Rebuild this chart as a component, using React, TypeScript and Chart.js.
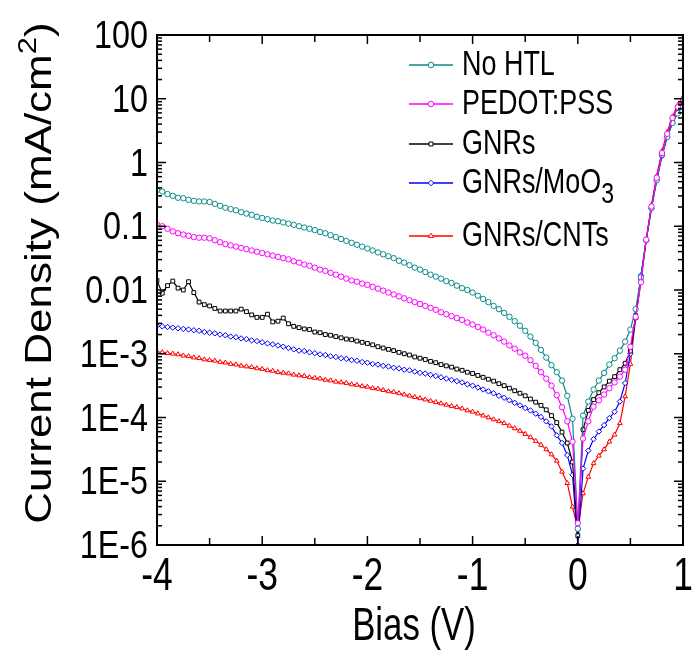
import React, { useEffect, useRef } from "react";
import { Chart, registerables } from "chart.js";

Chart.register(...registerables);

const FONT = "'Liberation Sans', Arial, Helvetica, sans-serif";

// Bias (V)
const bias = [
  -4, -3.95, -3.9, -3.85, -3.8, -3.75, -3.7, -3.65, -3.6, -3.55,
  -3.5, -3.45, -3.4, -3.35, -3.3, -3.25, -3.2, -3.15, -3.1, -3.05,
  -3, -2.95, -2.9, -2.85, -2.8, -2.75, -2.7, -2.65, -2.6, -2.55,
  -2.5, -2.45, -2.4, -2.35, -2.3, -2.25, -2.2, -2.15, -2.1, -2.05,
  -2, -1.95, -1.9, -1.85, -1.8, -1.75, -1.7, -1.65, -1.6, -1.55,
  -1.5, -1.45, -1.4, -1.35, -1.3, -1.25, -1.2, -1.15, -1.1, -1.05,
  -1, -0.95, -0.9, -0.85, -0.8, -0.75, -0.7, -0.65, -0.6, -0.55,
  -0.5, -0.45, -0.4, -0.35, -0.3, -0.25, -0.2, -0.15, -0.1, -0.05,
  0, 0.05, 0.1, 0.15, 0.2, 0.25, 0.3, 0.35, 0.4, 0.45,
  0.5, 0.55, 0.6, 0.65, 0.7, 0.75, 0.8, 0.85, 0.9, 0.95, 1,
];

// Current density (mA/cm2)
const noHTL = [
  0.37, 0.35, 0.32, 0.30, 0.28, 0.275, 0.26, 0.25, 0.245, 0.245,
  0.24, 0.224, 0.209, 0.195, 0.186, 0.178, 0.166, 0.158, 0.151, 0.141,
  0.135, 0.129, 0.123, 0.120, 0.115, 0.110, 0.105, 0.100, 0.0955, 0.0912,
  0.0871, 0.0813, 0.0776, 0.0724, 0.0676, 0.0631, 0.0589, 0.0550, 0.0513, 0.0479,
  0.0447, 0.0417, 0.0389, 0.0363, 0.0339, 0.0316, 0.0288, 0.0269, 0.0245, 0.0224,
  0.0209, 0.0191, 0.0174, 0.0162, 0.0151, 0.0138, 0.0129, 0.0117, 0.0107, 0.0100,
  9.12e-3, 8.13e-3, 7.24e-3, 6.46e-3, 5.62e-3, 5.01e-3, 4.37e-3, 3.80e-3, 3.24e-3, 2.75e-3,
  2.29e-3, 1.86e-3, 1.48e-3, 1.15e-3, 8.71e-4, 6.61e-4, 5.13e-4, 3.80e-4, 2.19e-4, 9.55e-5,
  1.8e-6,
  1.07e-4, 1.78e-4, 2.75e-4, 3.80e-4, 5.01e-4, 6.76e-4, 8.51e-4, 1.12e-3, 1.55e-3, 2.40e-3,
  5.01e-3, 1.58e-2, 6.03e-2, 0.191, 0.525, 1.32, 2.51, 4.17, 5.89, 7.59,
];

const pedotPSS = [
  0.107, 0.100, 0.0912, 0.0832, 0.0776, 0.0741, 0.0708, 0.0676, 0.0661, 0.0661,
  0.0646, 0.0603, 0.0562, 0.0525, 0.0501, 0.0479, 0.0457, 0.0437, 0.0417, 0.0398,
  0.0380, 0.0363, 0.0347, 0.0331, 0.0316, 0.0302, 0.0282, 0.0269, 0.0251, 0.0240,
  0.0224, 0.0209, 0.0200, 0.0186, 0.0174, 0.0162, 0.0151, 0.0141, 0.0135, 0.0126,
  0.0120, 0.0112, 0.0105, 9.77e-3, 9.12e-3, 8.51e-3, 7.94e-3, 7.41e-3, 6.92e-3, 6.46e-3,
  6.03e-3, 5.62e-3, 5.25e-3, 4.90e-3, 4.47e-3, 4.17e-3, 3.89e-3, 3.63e-3, 3.39e-3, 3.09e-3,
  2.88e-3, 2.63e-3, 2.40e-3, 2.14e-3, 1.95e-3, 1.74e-3, 1.55e-3, 1.35e-3, 1.20e-3, 1.05e-3,
  9.33e-4, 7.94e-4, 6.46e-4, 5.13e-4, 4.07e-4, 3.16e-4, 2.24e-4, 1.45e-4, 8.71e-5, 4.17e-5,
  2.2e-6,
  4.68e-5, 8.71e-5, 1.48e-4, 1.86e-4, 2.29e-4, 2.88e-4, 3.55e-4, 4.37e-4, 5.62e-4, 1.29e-3,
  3.80e-3, 1.32e-2, 6.17e-2, 0.204, 0.575, 1.41, 2.82, 5.01, 7.41, 9.55,
];

const gnrs = [
  0.0141, 8.91e-3, 0.0117, 0.0138, 0.0107, 0.0100, 0.0135, 9.12e-3, 6.46e-3, 5.89e-3,
  5.62e-3, 5.13e-3, 4.68e-3, 4.68e-3, 4.68e-3, 4.68e-3, 5.01e-3, 4.57e-3, 4.07e-3, 3.72e-3,
  3.72e-3, 4.17e-3, 3.16e-3, 3.24e-3, 3.63e-3, 2.95e-3, 2.69e-3, 2.57e-3, 2.45e-3, 2.40e-3,
  2.19e-3, 2.14e-3, 2.00e-3, 1.95e-3, 1.86e-3, 1.78e-3, 1.70e-3, 1.66e-3, 1.58e-3, 1.51e-3,
  1.45e-3, 1.38e-3, 1.29e-3, 1.23e-3, 1.17e-3, 1.12e-3, 1.05e-3, 1.00e-3, 9.55e-4, 8.91e-4,
  8.51e-4, 8.13e-4, 7.59e-4, 7.24e-4, 6.76e-4, 6.46e-4, 6.17e-4, 5.75e-4, 5.50e-4, 5.13e-4,
  4.90e-4, 4.57e-4, 4.27e-4, 3.98e-4, 3.72e-4, 3.39e-4, 3.16e-4, 2.88e-4, 2.63e-4, 2.40e-4,
  2.19e-4, 1.95e-4, 1.74e-4, 1.55e-4, 1.32e-4, 1.07e-4, 8.32e-5, 5.89e-5, 3.98e-5, 2.00e-5,
  1.4e-6,
  6.46e-5, 1.29e-4, 1.91e-4, 2.45e-4, 3.02e-4, 3.72e-4, 4.37e-4, 5.62e-4, 7.08e-4, 1.10e-3,
  3.98e-3, 1.48e-2, 6.03e-2, 0.200, 0.562, 1.38, 2.69, 4.68, 6.92, 8.91,
];

const gnrsMoO3 = [
  2.75e-3, 2.69e-3, 2.63e-3, 2.57e-3, 2.51e-3, 2.45e-3, 2.40e-3, 2.34e-3, 2.29e-3, 2.19e-3,
  2.14e-3, 2.09e-3, 2.00e-3, 1.95e-3, 1.86e-3, 1.82e-3, 1.74e-3, 1.70e-3, 1.62e-3, 1.58e-3,
  1.51e-3, 1.45e-3, 1.41e-3, 1.35e-3, 1.29e-3, 1.23e-3, 1.17e-3, 1.12e-3, 1.10e-3, 1.05e-3,
  1.02e-3, 9.77e-4, 9.55e-4, 9.12e-4, 8.91e-4, 8.51e-4, 8.32e-4, 7.94e-4, 7.76e-4, 7.41e-4,
  7.24e-4, 6.92e-4, 6.76e-4, 6.46e-4, 6.31e-4, 6.03e-4, 5.89e-4, 5.62e-4, 5.50e-4, 5.25e-4,
  5.01e-4, 4.90e-4, 4.68e-4, 4.47e-4, 4.27e-4, 4.07e-4, 3.89e-4, 3.72e-4, 3.55e-4, 3.31e-4,
  3.16e-4, 2.95e-4, 2.75e-4, 2.57e-4, 2.40e-4, 2.19e-4, 2.04e-4, 1.86e-4, 1.70e-4, 1.55e-4,
  1.41e-4, 1.29e-4, 1.15e-4, 1.02e-4, 8.71e-5, 7.24e-5, 5.25e-5, 3.98e-5, 2.57e-5, 1.26e-5,
  1.0e-6,
  1.58e-5, 3.02e-5, 4.57e-5, 6.03e-5, 7.59e-5, 9.77e-5, 1.23e-4, 1.78e-4, 3.47e-4, 1.00e-3,
  3.63e-3, 1.70e-2, 6.03e-2, 0.191, 0.525, 1.26, 2.51, 4.17, 6.03, 7.94,
];

const gnrsCNTs = [
  1.07e-3, 1.05e-3, 1.02e-3, 1.00e-3, 9.77e-4, 9.33e-4, 9.12e-4, 8.71e-4, 8.51e-4, 8.13e-4,
  7.94e-4, 7.76e-4, 7.41e-4, 7.24e-4, 6.92e-4, 6.76e-4, 6.46e-4, 6.31e-4, 6.17e-4, 5.89e-4,
  5.75e-4, 5.50e-4, 5.37e-4, 5.13e-4, 5.01e-4, 4.90e-4, 4.68e-4, 4.57e-4, 4.47e-4, 4.27e-4,
  4.17e-4, 4.07e-4, 3.89e-4, 3.80e-4, 3.63e-4, 3.55e-4, 3.47e-4, 3.31e-4, 3.24e-4, 3.09e-4,
  3.02e-4, 2.88e-4, 2.82e-4, 2.69e-4, 2.57e-4, 2.51e-4, 2.40e-4, 2.29e-4, 2.19e-4, 2.09e-4,
  2.00e-4, 1.91e-4, 1.82e-4, 1.74e-4, 1.66e-4, 1.58e-4, 1.51e-4, 1.45e-4, 1.38e-4, 1.29e-4,
  1.23e-4, 1.15e-4, 1.07e-4, 1.00e-4, 9.33e-5, 8.71e-5, 8.13e-5, 7.41e-5, 6.76e-5, 6.17e-5,
  5.50e-5, 4.90e-5, 4.27e-5, 3.72e-5, 3.16e-5, 2.63e-5, 2.09e-5, 1.41e-5, 9.33e-6, 3.98e-6,
  1.78e-6,
  6.46e-6, 1.17e-5, 1.91e-5, 2.51e-5, 3.16e-5, 4.17e-5, 5.37e-5, 8.13e-5, 2.14e-4, 6.92e-4,
  3.63e-3, 1.38e-2, 6.31e-2, 0.214, 0.617, 1.51, 3.02, 5.25, 7.94, 10.5,
];

const seriesNames = ["No HTL", "PEDOT:PSS", "GNRs", "GNRs/MoO3", "GNRs/CNTs"];
const seriesValues = [noHTL, pedotPSS, gnrs, gnrsMoO3, gnrsCNTs];
const seriesColors = ["#0a8a8a", "#ff00ff", "#000000", "#0000ff", "#ff0000"];
const seriesMarkers = ["circle", "circle", "rect", "rectRot", "triangle"];
const seriesOrder = [1, 0, 1, 1, 1];

const xTickValues = [-4, -3, -2, -1, 0, 1];
const xTickLabels = ["-4", "-3", "-2", "-1", "0", "1"];
const yTickValues = [1e-6, 1e-5, 1e-4, 1e-3, 1e-2, 1e-1, 1, 10, 100];
const yTickLabels = ["1E-6", "1E-5", "1E-4", "1E-3", "0.01", "0.1", "1", "10", "100"];

type Seg = { t: string; size: number; dy?: number };

function drawText(
  ctx: CanvasRenderingContext2D,
  segs: Seg[],
  x: number,
  y: number,
  align: "left" | "center" | "right",
  squeeze: number,
  rotate = false
) {
  let total = 0;
  const widths = segs.map((s) => {
    ctx.font = `${s.size}px ${FONT}`;
    const w = ctx.measureText(s.t).width;
    total += w;
    return w;
  });
  ctx.save();
  ctx.translate(x, y);
  if (rotate) {
    ctx.rotate(-Math.PI / 2);
    ctx.scale(1, squeeze);
  } else {
    ctx.scale(squeeze, 1);
  }
  ctx.textAlign = "left";
  ctx.textBaseline = "alphabetic";
  ctx.fillStyle = "#000";
  let cx = align === "left" ? 0 : align === "center" ? -total / 2 : -total;
  segs.forEach((s, i) => {
    ctx.font = `${s.size}px ${FONT}`;
    ctx.fillText(s.t, cx, s.dy || 0);
    cx += widths[i];
  });
  ctx.restore();
}

function drawMarker(
  ctx: CanvasRenderingContext2D,
  style: string,
  x: number,
  y: number,
  r: number,
  color: string
) {
  ctx.beginPath();
  if (style === "circle") {
    ctx.arc(x, y, r, 0, Math.PI * 2);
  } else if (style === "rect") {
    const s = r * Math.SQRT1_2;
    ctx.rect(x - s, y - s, 2 * s, 2 * s);
  } else if (style === "rectRot") {
    ctx.moveTo(x, y - r);
    ctx.lineTo(x + r, y);
    ctx.lineTo(x, y + r);
    ctx.lineTo(x - r, y);
    ctx.closePath();
  } else {
    const h = r * 1.5;
    ctx.moveTo(x, y - h * 0.66);
    ctx.lineTo(x + r, y + h * 0.34);
    ctx.lineTo(x - r, y + h * 0.34);
    ctx.closePath();
  }
  ctx.fillStyle = "#fff";
  ctx.fill();
  ctx.strokeStyle = color;
  ctx.lineWidth = 1;
  ctx.stroke();
}

const decorPlugin = {
  id: "decor",
  afterDraw(chart: any) {
    const ctx: CanvasRenderingContext2D = chart.ctx;
    const a = chart.chartArea;
    const xs = chart.scales.x;
    const ys = chart.scales.y;
    ctx.save();
    ctx.strokeStyle = "#000";
    ctx.lineCap = "butt";

    const seg = (x1: number, y1: number, x2: number, y2: number) => {
      ctx.beginPath();
      ctx.moveTo(x1, y1);
      ctx.lineTo(x2, y2);
      ctx.stroke();
    };

    // x ticks (inward, bottom and top)
    ctx.lineWidth = 1.5;
    for (let i = 0; i < xTickValues.length; i++) {
      const px = xs.getPixelForValue(xTickValues[i]);
      seg(px, a.bottom, px, a.bottom - 9);
      seg(px, a.top, px, a.top + 9);
      if (i < xTickValues.length - 1) {
        const mx = xs.getPixelForValue((xTickValues[i] + xTickValues[i + 1]) / 2);
        seg(mx, a.bottom, mx, a.bottom - 7);
        seg(mx, a.top, mx, a.top + 7);
      }
    }
    // y ticks (inward, left and right)
    for (let i = 0; i < yTickValues.length; i++) {
      const py = ys.getPixelForValue(yTickValues[i]);
      seg(a.left, py, a.left + 9, py);
      seg(a.right, py, a.right - 9, py);
      if (i < yTickValues.length - 1) {
        for (let k = 2; k <= 9; k++) {
          const my = ys.getPixelForValue(yTickValues[i] * k);
          seg(a.left, my, a.left + 5, my);
          seg(a.right, my, a.right - 5, my);
        }
      }
    }
    // frame
    ctx.lineWidth = 2;
    ctx.strokeRect(a.left, a.top, a.right - a.left, a.bottom - a.top);

    // tick labels
    for (let i = 0; i < yTickValues.length; i++) {
      const py = ys.getPixelForValue(yTickValues[i]);
      drawText(ctx, [{ t: yTickLabels[i], size: 38 }], a.left - 9, py + 13, "right", 0.85);
    }
    for (let i = 0; i < xTickValues.length; i++) {
      const px = xs.getPixelForValue(xTickValues[i]);
      drawText(ctx, [{ t: xTickLabels[i], size: 46 }], px, a.bottom + 45, "center", 0.77);
    }

    // axis titles
    drawText(ctx, [{ t: "Bias (V)", size: 47 }], (a.left + a.right) / 2 - 6, 640, "center", 0.74);
    drawText(
      ctx,
      [
        { t: "Current Density (mA/cm", size: 44 },
        { t: "2", size: 31, dy: -18 },
        { t: ")", size: 44 },
      ],
      51,
      273,
      "center",
      0.85,
      true
    );

    // legend
    const legendY = [65, 104, 144, 183, 236];
    for (let i = 0; i < seriesNames.length; i++) {
      const ly = legendY[i];
      ctx.strokeStyle = seriesColors[i];
      ctx.lineWidth = 1.4;
      seg(409, ly, 453, ly);
      drawMarker(ctx, seriesMarkers[i], 431, ly, 2.8, seriesColors[i]);
      const segs: Seg[] =
        seriesNames[i] === "GNRs/MoO3"
          ? [
              { t: "GNRs/MoO", size: 35 },
              { t: "3", size: 30, dy: 10 },
            ]
          : [{ t: seriesNames[i], size: 35 }];
      drawText(ctx, segs, 462, ly + 10, "left", 0.77);
    }
    ctx.restore();
  },
};

export default function App() {
  const ref = useRef<HTMLCanvasElement>(null);
  useEffect(() => {
    const canvas = ref.current;
    if (!canvas) return;
    const datasets = seriesNames.map((name, i) => ({
      label: name,
      data: bias.map((x, j) => ({ x, y: seriesValues[i][j] })),
      borderColor: seriesColors[i],
      backgroundColor: "#ffffff",
      pointBackgroundColor: "#ffffff",
      pointBorderColor: seriesColors[i],
      pointStyle: seriesMarkers[i] as any,
      pointRadius: 2.7,
      pointBorderWidth: 1,
      borderWidth: 1.2,
      tension: 0,
      fill: false,
      order: seriesOrder[i],
    }));
    const chart = new Chart(canvas, {
      type: "line",
      data: { datasets },
      options: {
        responsive: false,
        animation: false,
        events: [],
        layout: { padding: { left: 157, top: 35, right: 9, bottom: 110 } },
        plugins: { legend: { display: false }, tooltip: { enabled: false } },
        scales: {
          x: { type: "linear", min: -4, max: 1, display: false },
          y: { type: "logarithmic", min: 1e-6, max: 100, display: false },
        },
      },
      plugins: [decorPlugin],
    });
    return () => chart.destroy();
  }, []);
  return (
    <div style={{ position: "absolute", left: 0, top: 0, width: 692, height: 655, background: "#fff" }}>
      <canvas ref={ref} width={692} height={655} style={{ display: "block" }} />
    </div>
  );
}
